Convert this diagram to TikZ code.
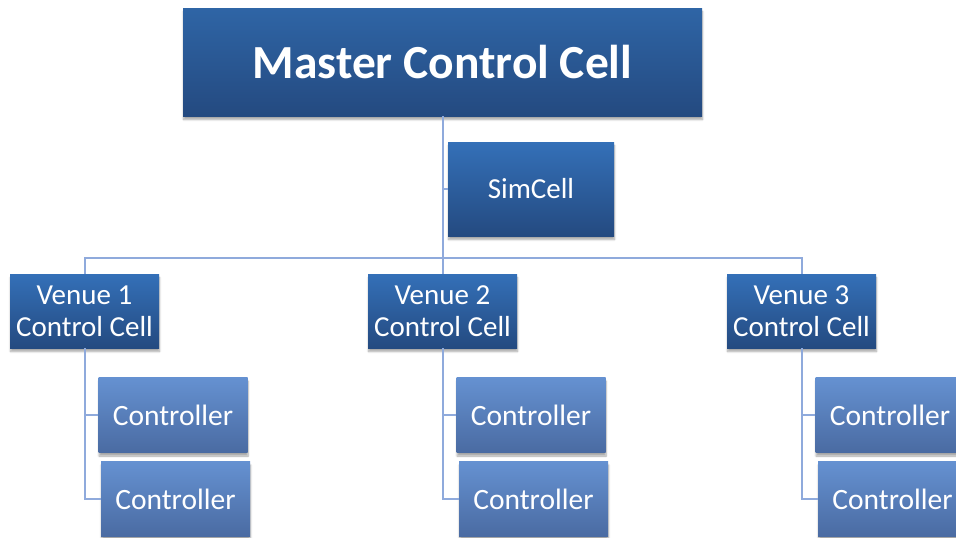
\documentclass[tikz,border=0pt]{standalone}
\usepackage{fontspec}
\setmainfont{Carlito}
\usepackage{tikz}
\usetikzlibrary{calc, shadows.blur}

\definecolor{cellTop}{HTML}{3470B8}
\definecolor{cellBot}{HTML}{244A80}
\definecolor{ctrlTop}{HTML}{6591D1}
\definecolor{ctrlBot}{HTML}{4A6BA2}
\definecolor{linkBlue}{HTML}{8FAADC}

\begin{document}
\begin{tikzpicture}[x=1pt, y=-1pt,
    box/.style={rectangle, inner sep=0pt, align=center, text=white,
        blur shadow={shadow xshift=0.5pt, shadow yshift=-3.5pt, shadow blur steps=6, shadow opacity=35}},
    cell/.style={box, minimum width=149pt, minimum height=74pt,
        top color=cellTop, bottom color=cellBot, font=\fontsize{29}{32}\selectfont},
    ctrl/.style={box, minimum width=149pt, minimum height=75pt,
        top color=ctrlTop, bottom color=ctrlBot, font=\fontsize{29.5}{32}\selectfont},
    link/.style={draw=linkBlue, line width=2pt}]

        \clip (0, 0) rectangle (956, 538);

        \node[box, minimum width=519pt, minimum height=108pt, top color=cellTop!90!black, bottom color=cellBot,
            font=\fontsize{47.5}{52}\bfseries\selectfont] (master) at (442.5, 62) {Master Control Cell};
        \node[cell, minimum width=166pt, minimum height=94pt] (simcell) at (531, 189) {SimCell};

        \node[cell] (venue1) at (84.5, 311) {Venue 1\\Control Cell};
        \node[cell] (venue2) at (442.5, 311) {Venue 2\\Control Cell};
        \node[cell] (venue3) at (801.5, 311) {Venue 3\\Control Cell};

        \node[ctrl] (ctrlA1) at (173, 415) {Controller};
        \node[ctrl] (ctrlB1) at (175.5, 499) {Controller};
        \node[ctrl] (ctrlA2) at (531, 415) {Controller};
        \node[ctrl] (ctrlB2) at (533.5, 499) {Controller};
        \node[ctrl] (ctrlA3) at (890, 415) {Controller};
        \node[ctrl] (ctrlB3) at (892.5, 499) {Controller};

        \coordinate (bus) at (0, 258);

        % connectors
        \draw[link] (master.south) -- (master.south |- venue2.north);
        \draw[link] (simcell.west) -- (simcell.west -| master.south);
        \draw[link] (venue1.north) -- (venue1.north |- bus) -- (venue3.north |- bus) -- (venue3.north);
        \draw[link] (venue1.south) |- (ctrlA1.west);
        \draw[link] (venue1.south) |- (ctrlB1.west);
        \draw[link] (venue2.south) |- (ctrlA2.west);
        \draw[link] (venue2.south) |- (ctrlB2.west);
        \draw[link] (venue3.south) |- (ctrlA3.west);
        \draw[link] (venue3.south) |- (ctrlB3.west);
\end{tikzpicture}
\end{document}
